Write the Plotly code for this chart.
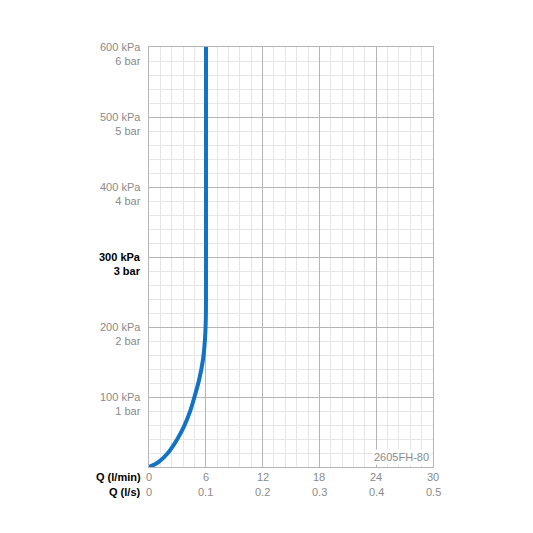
import plotly.graph_objects as go

flow_lmin = [0, 0.5, 1.0, 2.0, 3.0, 3.7, 4.3, 4.8, 5.3, 5.7, 5.9, 6.0, 6.02, 6.02]
pressure_kpa = [0, 3, 7, 20, 40, 58, 78, 100, 125, 153, 180, 210, 260, 600]
x_ticks = [0, 6, 12, 18, 24, 30]
x_ls = ["0", "0.1", "0.2", "0.3", "0.4", "0.5"]
y_ticks = [100, 200, 300, 400, 500, 600]
y_kpa = ["100 kPa", "200 kPa", "300 kPa", "400 kPa", "500 kPa", "600 kPa"]
y_bar = ["1 bar", "2 bar", "3 bar", "4 bar", "5 bar", "6 bar"]

fig = go.Figure(go.Scatter(x=flow_lmin, y=pressure_kpa, mode="lines",
                           line=dict(color="#1273c4", width=4, shape="spline"),
                           hoverinfo="skip"))
ann = []
gray = "#8a8a8a"
for v, a, b in zip(y_ticks, y_kpa, y_bar):
    bold = v == 300
    t = f"<b>{a}<br>{b}</b>" if bold else f"{a}<br>{b}"
    ann.append(dict(x=0, y=v, xref="paper", yref="y", xanchor="right", yanchor="top",
                    xshift=-6, yshift=8, text=t, showarrow=False, align="right",
                    font=dict(size=11, color="#000" if bold else gray)))
for v, s in zip(x_ticks, x_ls):
    ann.append(dict(x=v, y=0, xref="x", yref="paper", yanchor="top", yshift=-2,
                    text=str(v), showarrow=False, font=dict(size=11, color=gray)))
    ann.append(dict(x=v, y=0, xref="x", yref="paper", yanchor="top", yshift=-17,
                    text=s, showarrow=False, font=dict(size=11, color=gray)))
ann.append(dict(x=0, y=0, xref="paper", yref="paper", xanchor="right", yanchor="top",
                xshift=-6, yshift=-2, text="<b>Q (l/min)</b>", showarrow=False,
                font=dict(size=11, color="#000")))
ann.append(dict(x=0, y=0, xref="paper", yref="paper", xanchor="right", yanchor="top",
                xshift=-6, yshift=-17, text="<b>Q (l/s)</b>", showarrow=False,
                font=dict(size=11, color="#000")))
ann.append(dict(x=1, y=0, xref="paper", yref="paper", xanchor="right", yanchor="bottom",
                xshift=-2, yshift=2, text="2605FH-80", showarrow=False, bgcolor="white",
                font=dict(size=11, color=gray)))

fig.update_layout(
    width=533, height=533, margin=dict(l=141, r=108, t=39, b=74),
    paper_bgcolor="white", plot_bgcolor="white", showlegend=False,
    font=dict(family="Liberation Sans, Arial"),
    annotations=ann,
    xaxis=dict(range=[0, 30], dtick=6, showticklabels=False, gridcolor="#b5b5b5", gridwidth=1,
               minor=dict(dtick=1.2, gridcolor="#e6e6e6", showgrid=True),
               showline=True, linecolor="#b5b5b5", mirror=True, zeroline=False, fixedrange=True),
    yaxis=dict(range=[0, 600], dtick=100, showticklabels=False, gridcolor="#b5b5b5", gridwidth=1,
               minor=dict(dtick=20, gridcolor="#e6e6e6", showgrid=True),
               showline=True, linecolor="#b5b5b5", mirror=True, zeroline=False, fixedrange=True),
)
fig.write_html("out.html")
